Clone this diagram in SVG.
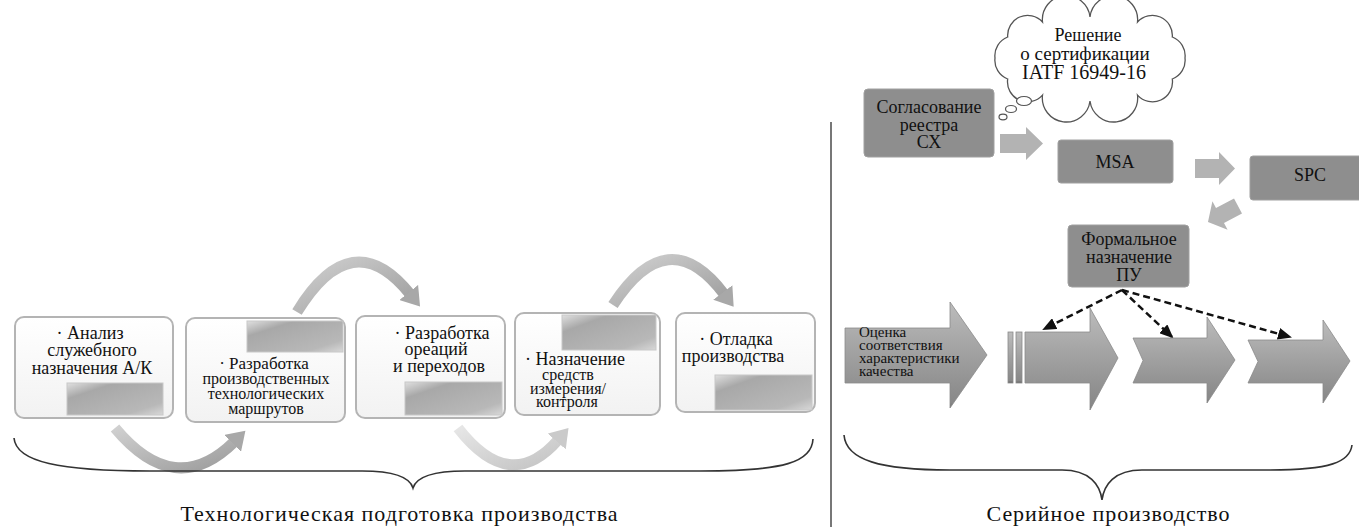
<svg xmlns="http://www.w3.org/2000/svg" width="1359" height="527" viewBox="0 0 1359 527">
<defs>
<linearGradient id="boxG" x1="0" y1="0" x2="0" y2="1"><stop offset="0" stop-color="#ffffff"/><stop offset="1" stop-color="#f2f2f2"/></linearGradient>
<linearGradient id="tabG" x1="0" y1="0" x2="1" y2="1"><stop offset="0" stop-color="#e0e0e0"/><stop offset="0.25" stop-color="#a8a8a8"/><stop offset="0.8" stop-color="#b8b8b8"/><stop offset="1" stop-color="#d8d8d8"/></linearGradient>
<linearGradient id="arcG" x1="0" y1="0" x2="1" y2="1"><stop offset="0" stop-color="#d0d0d0"/><stop offset="1" stop-color="#9c9c9c"/></linearGradient>
<linearGradient id="arcL" x1="0" y1="0" x2="1" y2="1"><stop offset="0" stop-color="#e6e6e6"/><stop offset="1" stop-color="#c4c4c4"/></linearGradient>
<linearGradient id="bigG" x1="0" y1="0" x2="0" y2="1"><stop offset="0" stop-color="#bcbcbc"/><stop offset="0.5" stop-color="#a0a0a0"/><stop offset="0.95" stop-color="#888888"/><stop offset="1" stop-color="#6a6a6a"/></linearGradient>
<marker id="hd" markerUnits="userSpaceOnUse" markerWidth="20" markerHeight="24" refX="2" refY="12" orient="auto"><path d="M0,0 L18,12 L0,24 z" fill="#a8a8a8"/></marker>
<marker id="hdl" markerUnits="userSpaceOnUse" markerWidth="20" markerHeight="24" refX="2" refY="12" orient="auto"><path d="M0,0 L18,12 L0,24 z" fill="#cacaca"/></marker>
<marker id="dh" markerUnits="userSpaceOnUse" markerWidth="14" markerHeight="12" refX="12" refY="6" orient="auto"><path d="M0,0 L14,6 L0,12 z" fill="#111"/></marker>
<style>
text{font-family:'Liberation Serif','DejaVu Serif','Times New Roman',serif}
.t{font-size:18px;fill:#111;text-anchor:middle}
.m{font-size:16px}
.s{font-size:15px}
.box{fill:url(#boxG);stroke:#b4b4b4;stroke-width:2}
.tab{fill:url(#tabG);stroke:#c8c8c8;stroke-width:1}
.dk{fill:#8e8e8e;stroke:#a0a0a0;stroke-width:1}
.blk{fill:#b3b3b3}
.big{fill:url(#bigG);stroke:#8a8a8a;stroke-width:0.8}
.brace{fill:none;stroke:#333;stroke-width:1.6}
.dash{fill:none;stroke:#111;stroke-width:2.5;stroke-dasharray:7,4}
</style>
</defs>
<rect width="1359" height="527" fill="#ffffff"/>

<line x1="831" y1="122" x2="831" y2="527" stroke="#555" stroke-width="1.6"/>

<g id="connectors">
<path d="M115,428 Q175,500 234,442" fill="none" stroke="url(#arcG)" stroke-width="11" marker-end="url(#hd)"/>
<path d="M297,312 Q352,222 410,294" fill="none" stroke="url(#arcG)" stroke-width="11" marker-end="url(#hd)"/>
<path d="M458,428 Q510,495 558,440" fill="none" stroke="url(#arcL)" stroke-width="11" marker-end="url(#hdl)"/>
<path d="M613,305 Q668,220 724,294" fill="none" stroke="url(#arcG)" stroke-width="11" marker-end="url(#hd)"/>
<polygon class="blk" points="1000,134 1026,134 1026,127 1043,143.5 1026,160 1026,153 1000,153"/>
<polygon class="blk" points="1195,159 1219,159 1219,152 1235,168.5 1219,185 1219,178 1195,178"/>
<polygon class="blk" transform="translate(1223,214) rotate(152) scale(0.85)" points="-20,-10 4,-10 4,-19 20,0 4,19 4,10 -20,10"/>
<path class="dash" d="M1122,290 L1044,329" marker-end="url(#dh)"/>
<path class="dash" d="M1122,290 L1172,337" marker-end="url(#dh)"/>
<path class="dash" d="M1122,290 L1290,337" marker-end="url(#dh)"/>
</g>

<g id="n1">
<rect class="box" x="15" y="317" width="158" height="101" rx="9"/>
<rect class="tab" x="67" y="383" width="96" height="32"/>
<text class="t"><tspan x="90" y="339">· Анализ</tspan><tspan x="92" y="356">служебного</tspan><tspan x="92" y="374">назначения А/К</tspan></text>
</g>
<g id="n2">
<rect class="box" x="186" y="318" width="159" height="104" rx="9"/>
<rect class="tab" x="247" y="321" width="96" height="31"/>
<text class="t m"><tspan x="264" y="369" style="font-size:17px">· Разработка</tspan><tspan x="266" y="384">производственных</tspan><tspan x="266" y="399">технологических</tspan><tspan x="266" y="414">маршрутов</tspan></text>
</g>
<g id="n3">
<rect class="box" x="356" y="316" width="149" height="102" rx="9"/>
<rect class="tab" x="405" y="382" width="97" height="33"/>
<text class="t"><tspan x="442" y="339">· Разработка</tspan><tspan x="436" y="355">ореаций</tspan><tspan x="439" y="372">и переходов</tspan></text>
</g>
<g id="n4">
<rect class="box" x="515" y="313" width="145" height="102" rx="9"/>
<rect class="tab" x="562" y="315" width="94" height="35"/>
<text class="t m"><tspan x="575" y="365" style="font-size:18px">· Назначение</tspan><tspan x="568" y="380">средств</tspan><tspan x="568" y="394">измерения/</tspan><tspan x="567" y="407">контроля</tspan></text>
</g>
<g id="n5">
<rect class="box" x="676" y="313" width="139" height="99" rx="9"/>
<rect class="tab" x="715" y="375" width="97" height="35"/>
<text class="t"><tspan x="736" y="345">· Отладка</tspan><tspan x="733" y="362">производства</tspan></text>
</g>

<g id="cloud">
<path d="M1185,58 A20,20 0 0 1 1172.3,79 A20,20 0 0 1 1137.5,95.1 A20,20 0 0 1 1090,101 A20,20 0 0 1 1042.5,95.1 A20,20 0 0 1 1007.7,79 A20,20 0 0 1 995,58 A20,20 0 0 1 1007.7,37 A20,20 0 0 1 1042.5,22 A20,20 0 0 1 1090,17 A20,20 0 0 1 1137.5,22 A20,20 0 0 1 1172.3,37 A20,20 0 0 1 1185,58 Z" fill="#ffffff" stroke="#555" stroke-width="1.3"/>
<ellipse cx="1003" cy="117" rx="4" ry="2.8" fill="#fff" stroke="#555" stroke-width="1.2"/>
<ellipse cx="1011" cy="109" rx="5.5" ry="3.5" fill="#fff" stroke="#555" stroke-width="1.2"/>
<ellipse cx="1024" cy="101" rx="7.5" ry="4.5" fill="#fff" stroke="#555" stroke-width="1.2"/>
<text class="t"><tspan x="1088" y="41">Решение</tspan><tspan x="1085" y="60" style="font-size:19px">о сертификации</tspan><tspan x="1084" y="79" style="font-size:20px">IATF 16949-16</tspan></text>
</g>

<g id="n6">
<rect class="dk" x="864" y="89" width="130" height="68" rx="4"/>
<text class="t" style="font-size:18px"><tspan x="929" y="113">Согласование</tspan><tspan x="929" y="131">реестра</tspan><tspan x="929" y="148">СХ</tspan></text>
</g>
<g id="n7">
<rect class="dk" x="1058" y="140" width="115" height="43" rx="3"/>
<text class="t" x="1115" y="168">MSA</text>
</g>
<g id="n8">
<rect class="dk" x="1250" y="156" width="112" height="44" rx="3"/>
<text class="t" x="1310" y="181">SPC</text>
</g>
<g id="n9">
<rect class="dk" x="1068" y="225" width="121" height="62" rx="4"/>
<text class="t"><tspan x="1129" y="245">Формальное</tspan><tspan x="1129" y="263">назначение</tspan><tspan x="1129" y="281">ПУ</tspan></text>
</g>

<g id="n10">
<polygon class="big" points="845,328 950,328 950,302 987,355 950,408 950,383 845,383"/>
<text class="t s" style="text-anchor:start"><tspan x="859" y="337">Оценка</tspan><tspan x="859" y="350">соответствия</tspan><tspan x="859" y="363">характеристики</tspan><tspan x="859" y="376">качества</tspan></text>
</g>
<g id="n11">
<rect class="big" x="1008" y="332" width="5" height="51"/>
<rect class="big" x="1016" y="332" width="6" height="51"/>
<polygon class="big" points="1025,332 1090,332 1090,308 1118,358 1090,410 1090,383 1025,383"/>
</g>
<g id="n12">
<polygon class="big" points="1133,338 1207,338 1207,317 1235,360 1207,403 1207,383 1133,383 1143,360.5"/>
</g>
<g id="n13">
<polygon class="big" points="1248,340 1323,340 1323,320 1350,361 1323,403 1323,383 1248,383 1258,361.5"/>
</g>

<g id="braces">
<path class="brace" d="M14,438 C16,462 60,471 150,471 L362,471 C395,471 410,478 413,488 C416,478 431,471 465,471 L700,471 C785,471 812,462 813,439"/>
<path class="brace" d="M844,435 C846,460 880,470 950,470 L1062,470 C1090,470 1100,485 1102,500 C1104,485 1114,470 1142,470 L1270,470 C1330,470 1350,462 1352,445"/>
<text class="t" x="399" y="521" style="font-size:22px" textLength="437" lengthAdjust="spacing">Технологическая подготовка производства</text>
<text class="t" x="1108" y="521" style="font-size:22px" textLength="243" lengthAdjust="spacing">Серийное производство</text>
</g>
</svg>
